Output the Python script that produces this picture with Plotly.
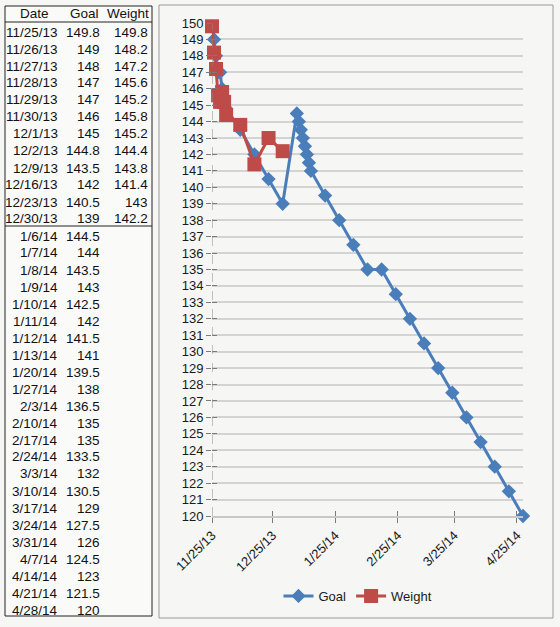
import pandas as pd
import plotly.graph_objects as go

W, H = 560, 627
FONT = "Liberation Sans, Arial, sans-serif"

# data as typed in the sheet
date_labels = ["11/25/13", "11/26/13", "11/27/13", "11/28/13", "11/29/13", "11/30/13",
               "12/1/13", "12/2/13", "12/9/13", "12/16/13", "12/23/13", "12/30/13",
               "1/6/14", "1/7/14", "1/8/14", "1/9/14", "1/10/14", "1/11/14", "1/12/14",
               "1/13/14", "1/20/14", "1/27/14", "2/3/14", "2/10/14", "2/17/14", "2/24/14",
               "3/3/14", "3/10/14", "3/17/14", "3/24/14", "3/31/14", "4/7/14", "4/14/14",
               "4/21/14", "4/28/14"]
goal = [149.8, 149, 148, 147, 147, 146, 145, 144.8, 143.5, 142, 140.5, 139,
        144.5, 144, 143.5, 143, 142.5, 142, 141.5, 141, 139.5, 138, 136.5, 135,
        135, 133.5, 132, 130.5, 129, 127.5, 126, 124.5, 123, 121.5, 120]
weight = [149.8, 148.2, 147.2, 145.6, 145.2, 145.8, 145.2, 144.4, 143.8, 141.4, 143, 142.2]
headers = ["Date", "Goal", "Weight"]
x_ticks = ["2013-11-25", "2013-12-25", "2014-01-25", "2014-02-25", "2014-03-25", "2014-04-25"]
y_min, y_max = 120, 150

dates = pd.to_datetime(date_labels, format="%m/%d/%y")


def px(x):
    return x / W


def py(y):
    return 1 - y / H


blue = "#4a7ebb"
red = "#be4b48"

fig = go.Figure()
fig.add_trace(go.Scatter(x=dates, y=goal, name="Goal", mode="lines+markers",
                         line=dict(color=blue, width=3),
                         marker=dict(symbol="diamond", size=11, color=blue),
                         cliponaxis=False))
fig.add_trace(go.Scatter(x=dates[:len(weight)], y=weight, name="Weight", mode="lines+markers",
                         line=dict(color=red, width=3),
                         marker=dict(symbol="square", size=14, color=red),
                         cliponaxis=False))
# empty trace on overlay axes -> inner half of excel's cross tick marks
fig.add_trace(go.Scatter(x=[dates[0]], y=[goal[0]], xaxis="x2", yaxis="y2", mode="markers",
                         marker=dict(opacity=0), showlegend=False, hoverinfo="skip"))

xdom = [px(212), px(523)]
ydom = [py(516), py(23)]
xr = [dates[0], dates[-1]]

tick_common = dict(ticklen=5, tickcolor="#7a7a7a", tickwidth=1, zeroline=False,
                   automargin=False)
fig.update_layout(
    width=W, height=H,
    margin=dict(l=0, r=0, t=0, b=0),
    paper_bgcolor="#f6f6f4", plot_bgcolor="#f6f6f4",
    font=dict(family=FONT, size=13, color="#1a1a1a"),
    xaxis=dict(domain=xdom, range=xr, tickvals=x_ticks, tickformat="%-m/%-d/%y",
               tickangle=-45, ticks="outside", showgrid=False, showline=True,
               linecolor="#c8c8c8", linewidth=1.5, tickfont=dict(size=13), **tick_common),
    yaxis=dict(domain=ydom, range=[y_min, y_max], dtick=1, tick0=y_min, ticks="outside",
               showgrid=True, gridcolor="#d3d3d3", gridwidth=1.5, showline=False,
               tickfont=dict(size=13), **tick_common),
    xaxis2=dict(overlaying="x", anchor="y", domain=xdom, range=xr, tickvals=x_ticks,
                ticks="inside", showticklabels=False, showgrid=False, showline=False,
                **tick_common),
    yaxis2=dict(overlaying="y", anchor="x", domain=ydom, range=[y_min, y_max], dtick=1,
                tick0=y_min, ticks="inside", showticklabels=False, showgrid=False,
                showline=False, **tick_common),
    legend=dict(orientation="h", x=px(358), xanchor="center", y=py(596), yanchor="middle",
                bgcolor="rgba(0,0,0,0)", font=dict(size=13)),
    showlegend=True,
)

# dashed value axis line
fig.add_shape(type="line", xref="x", yref="y", x0=dates[0], x1=dates[0], y0=y_min, y1=y_max,
              line=dict(color="#8a8a8a", width=1, dash="dash"))

# chart panel border
fig.add_shape(type="rect", xref="paper", yref="paper", x0=px(159), x1=px(553),
              y0=py(618), y1=py(5), line=dict(color="#9a9a9a", width=1), layer="below")

# table on the left
fig.add_shape(type="rect", xref="paper", yref="paper", x0=px(5), x1=px(152),
              y0=py(616), y1=py(6), line=dict(color="#222", width=1), fillcolor="#fafaf9",
              layer="below")
for yl in (22, 226):
    fig.add_shape(type="line", xref="paper", yref="paper", x0=px(5), x1=px(152),
                  y0=py(yl), y1=py(yl), line=dict(color="#222", width=1))

head_x = [34, 84, 128]
for h, hx in zip(headers, head_x):
    fig.add_annotation(x=px(hx), y=py(14), xref="paper", yref="paper", text=h,
                       showarrow=False, xanchor="center", yanchor="middle",
                       font=dict(size=13.5, color="#111"))

row0, row_h = 32, 17.0
col_right = [60, 102, 150]
for i, d in enumerate(date_labels):
    yy = py(row0 + i * row_h)
    cells = [d, f"{goal[i]:g}", f"{weight[i]:g}" if i < len(weight) else ""]
    for txt, cx in zip(cells, col_right):
        if not txt:
            continue
        fig.add_annotation(x=px(cx), y=yy, xref="paper", yref="paper", text=txt,
                           showarrow=False, xanchor="right", yanchor="middle",
                           font=dict(size=13.5, color="#111"))

# page body has a default 8px margin; drop it so the figure sits at the window corner
fig.write_html("out.html", config={"displayModeBar": False},
               post_script="document.body.style.margin='0px';")
